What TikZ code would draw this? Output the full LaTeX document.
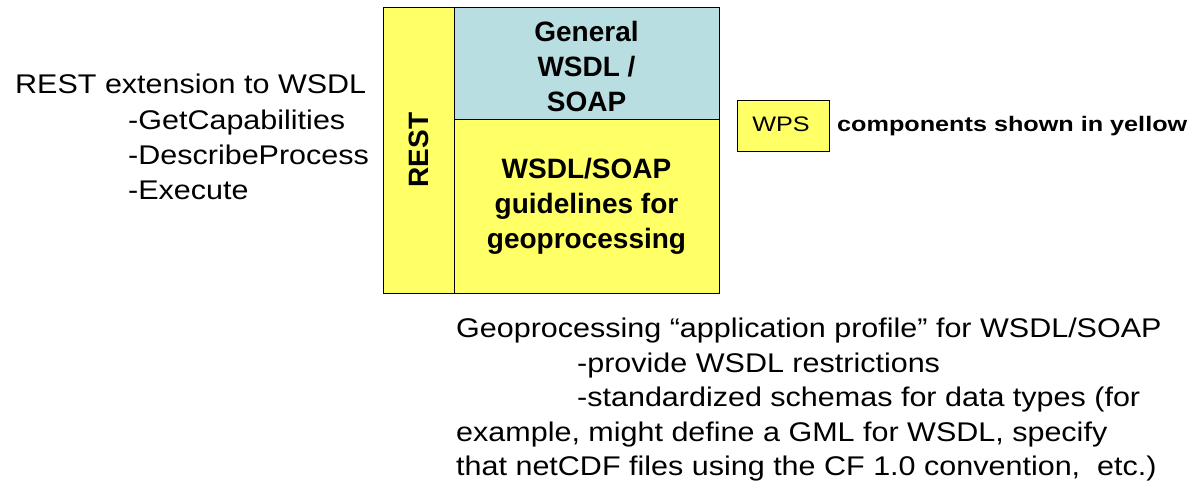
\documentclass[tikz,border=0pt]{standalone}
\usepackage{fontspec}
\setmainfont{Liberation Sans}
\definecolor{wpsyellow}{HTML}{FFFF66}
\definecolor{soapblue}{HTML}{B8DEE1}
% horizontally widened text for the notes
\newcommand{\widetext}[2][1.13]{\scalebox{#1}[1]{#2}}
\begin{document}
\begin{tikzpicture}[x=1pt,y=-1pt,
  panel/.style={draw=black,line width=1pt},
  boxtext/.style={font=\fontsize{28}{35}\selectfont\bfseries,align=center,inner sep=0pt},
  plain/.style={font=\fontsize{27}{34}\selectfont,anchor=base west,inner sep=0pt},
  legendtext/.style={font=\fontsize{21}{26}\selectfont,inner sep=0pt},
]
\useasboundingbox (0,0) rectangle (1194,489);

% stacked component blocks
\path[panel,fill=wpsyellow] (383,8) rectangle (454,293);
\path[panel,fill=soapblue] (454,8) rectangle (719,120);
\path[panel,fill=wpsyellow] (454,120) rectangle (719,293);
\node[boxtext,rotate=90] (rest) at (418.5,150) {REST};
\node[boxtext] (general) at (586.5,66) {General\\WSDL /\\SOAP};
\node[boxtext] (guide) at (586.5,206) {WSDL/SOAP\\guidelines for\\geoprocessing};

% legend
\path[panel,fill=wpsyellow] (737,101) rectangle (829,152);
\node[legendtext,anchor=base] (wps) at (781,132) {\widetext[1.2]{WPS}};
\node[legendtext,anchor=base west,font=\fontsize{21}{26}\selectfont\bfseries] (legend) at (837,132) {\widetext[1.2]{components shown in yellow}};

% REST operations
\node[plain] (r1) at (15,94) {\widetext{REST extension to WSDL}};
\node[plain] (r2) at (128,130) {\widetext{-GetCapabilities}};
\node[plain] (r3) at (128,165) {\widetext{-DescribeProcess}};
\node[plain] (r4) at (128,200) {\widetext{-Execute}};

% application profile notes
\node[plain] (p1) at (456,337) {\widetext{Geoprocessing “application profile” for WSDL/SOAP}};
\node[plain] (p2) at (577,372) {\widetext{-provide WSDL restrictions}};
\node[plain] (p3) at (577,406) {\widetext{-standardized schemas for data types (for}};
\node[plain] (p4) at (456,441) {\widetext{example, might define a GML for WSDL, specify}};
\node[plain] (p5) at (456,475) {\widetext{that netCDF files using the CF 1.0 convention,\ \ etc.)}};
\end{tikzpicture}
\end{document}
